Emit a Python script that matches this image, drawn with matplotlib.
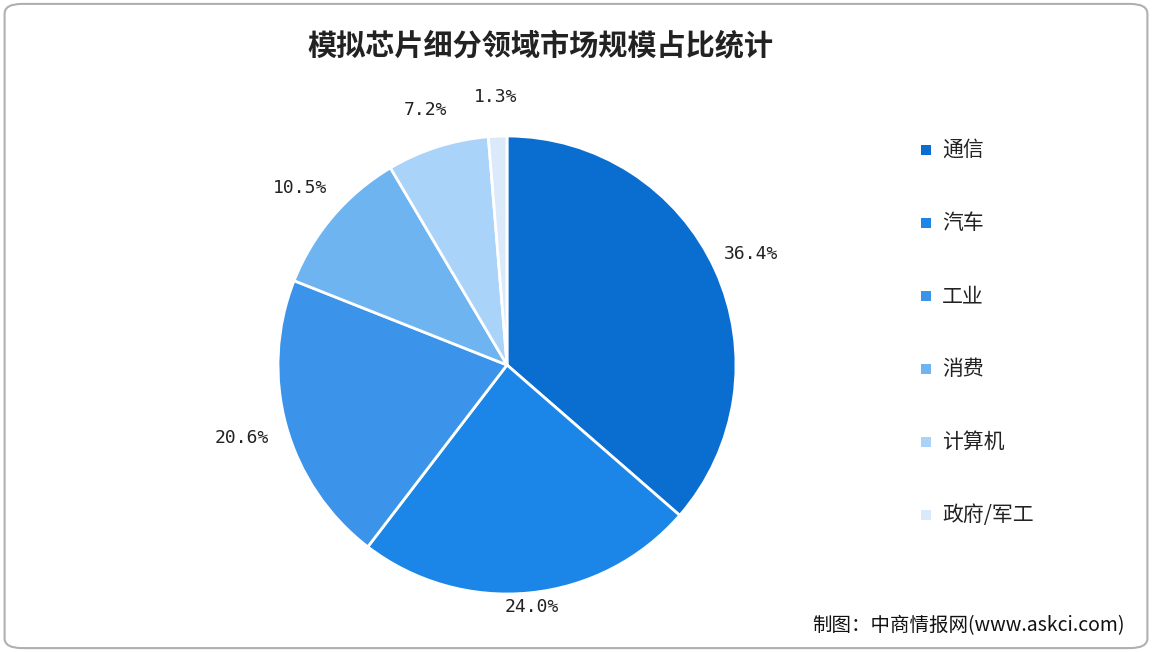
import matplotlib
matplotlib.use("Agg")
import matplotlib.pyplot as plt
import numpy as np
from matplotlib.patches import FancyBboxPatch

plt.rcParams['font.family'] = ['Noto Sans CJK SC', 'DejaVu Sans']

categories = ['通信', '汽车', '工业', '消费', '计算机', '政府/军工']
values = [36.4, 24.0, 20.6, 10.5, 7.2, 1.3]
colors = ['#0a6ed1', '#1b86e8', '#3b94e9', '#6db4f1', '#a9d3f8', '#dbeafb']
label_dist = [1.17, 1.06, 1.2, 1.19, 1.17, 1.17]

W, H = 1152, 652
fig = plt.figure(figsize=(W/100, H/100), dpi=100)
fig.patches.append(FancyBboxPatch((0.004, 0.006), 0.992, 0.988, boxstyle="round,pad=0,rounding_size=0.015",
                                  transform=fig.transFigure, fc='none', ec='#b0b0b0', lw=1.5, zorder=-5))

cx, cy, r = 507, 365, 229
ax = fig.add_axes([(cx-r)/W, (H-cy-r)/H, 2*r/W, 2*r/H])
wedges, texts = ax.pie(values, colors=colors, startangle=90, counterclock=False,
       wedgeprops=dict(edgecolor='white', linewidth=2))
for w, v, d in zip(wedges, values, label_dist):
    ang = np.deg2rad((w.theta1 + w.theta2) / 2)
    ax.text(d*np.cos(ang), d*np.sin(ang), f'{v:.1f}%', ha='center', va='center',
            fontsize=13, color='#222222', family=['DejaVu Sans Mono'])
ax.set_xlim(-1, 1); ax.set_ylim(-1, 1); ax.set_aspect('equal')

fig.text(540/W, 1-45/H, '模拟芯片细分领域市场规模占比统计', ha='center', va='center',
         fontsize=21, fontweight='bold', color='#222222')

y0, dy = 150, 73
for i, (c, col) in enumerate(zip(categories, colors)):
    y = 1-(y0+i*dy)/H
    fig.patches.append(plt.Rectangle((921/W, y-5/H), 10/W, 10/H, transform=fig.transFigure, fc=col, ec='none'))
    fig.text(942/W, y, c, va='center', fontsize=15, color='#222222')

fig.text(1125/W, 1-626/H, '制图：中商情报网(www.askci.com)', ha='right', va='center', fontsize=14, color='#111111')
fig.savefig('out.png', dpi=100)
